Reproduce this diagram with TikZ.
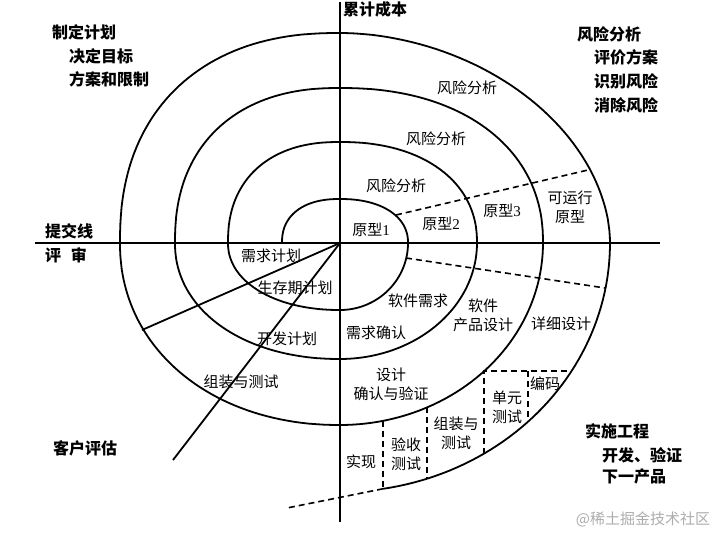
\documentclass[tikz,border=0pt]{standalone}
\usepackage{fontspec}
\setmainfont{Liberation Serif}
\newfontfamily\cjk{Noto Sans CJK SC}
\begin{document}
\begin{tikzpicture}[x=1pt,y=-1pt,
  declare function={px(\t,\s,\a,\n)=340+\s*\a*pow(abs(cos(\t))+0.00001,2/\n);
                    py(\t,\s,\b,\n)=243+\s*\b*pow(abs(sin(\t))+0.00001,2/\n);},
  spiral/.style={line width=1.8pt,line join=round,samples=50},
  axis/.style={line width=2.2pt},
  ray/.style={line width=1.8pt},
  dsh/.style={line width=1.6pt,dash pattern=on 6pt off 4pt},
  lab/.style={font=\cjk\fontsize{15}{19}\selectfont,inner sep=0pt,align=center},
  blab/.style={font=\cjk\bfseries\fontsize{16}{19}\selectfont,inner sep=0pt,anchor=west},
  wm/.style={font=\cjk\fontsize{15}{18}\selectfont,inner sep=0pt,text=black!32}]
\useasboundingbox (0,0) rectangle (715,533);
\fill[white] (0,0) rectangle (715,533);
\coordinate (O) at (340,243);
% axes
\coordinate (ax1) at (35,243); \coordinate (ax2) at (660,243);
\coordinate (ay1) at (340,2); \coordinate (ay2) at (340,522);
\draw[axis] (ax1) -- (ax2);
\draw[axis] (ay1) -- (ay2);
% spiral
\draw[spiral]
  plot[domain=0:90]  ({px(\x,-1,58,2.3)},{py(\x,-1,44,2.3)})
  -- plot[domain=90:0] ({px(\x,1,68,2.2)},{py(\x,-1,44,2.2)})
  -- plot[domain=0:90] ({px(\x,1,68,2)},{py(\x,1,67,2)})
  -- plot[domain=90:0] ({px(\x,-1,112,2.1)},{py(\x,1,67,2.1)})
  -- plot[domain=0:90] ({px(\x,-1,112,2.3)},{py(\x,-1,101,2.3)})
  -- plot[domain=90:0] ({px(\x,1,137,2.2)},{py(\x,-1,101,2.2)})
  -- plot[domain=0:90] ({px(\x,1,137,2)},{py(\x,1,116,2)})
  -- plot[domain=90:0] ({px(\x,-1,165,2.1)},{py(\x,1,116,2.1)})
  -- plot[domain=0:90] ({px(\x,-1,165,2.3)},{py(\x,-1,155,2.3)})
  -- plot[domain=90:0] ({px(\x,1,203,2.2)},{py(\x,-1,155,2.2)})
  -- plot[domain=0:90] ({px(\x,1,203,2)},{py(\x,1,182,2)})
  -- plot[domain=90:0] ({px(\x,-1,220,2.1)},{py(\x,1,182,2.1)})
  -- plot[domain=0:90] ({px(\x,-1,220,2.3)},{py(\x,-1,210,2.3)})
  -- plot[domain=90:0] ({px(\x,1,270,1.9)},{py(\x,-1,210,1.9)})
  -- plot[domain=0:80.8] ({px(\x,1,270,2)},{py(\x,1,249,2)});
\coordinate (e4) at (383,488.8);
\coordinate (e5) at (287,508);
\draw[dsh] (e4) -- (e5);
% rays
\coordinate (r1) at (142,330);
\coordinate (r2) at (173,460);
\draw[ray] (O) -- (r1);
\draw[ray] (O) -- (r2);
% dashed dividers
\coordinate (d1a) at (396,215); \coordinate (d1b) at (588,170);
\coordinate (d2a) at (406,258); \coordinate (d2b) at (605,288);
\draw[dsh] (d1a) -- (d1b);
\draw[dsh] (d2a) -- (d2b);
\coordinate (v1a) at (383,421); \coordinate (v1b) at (383,489);
\coordinate (v2a) at (427,407); \coordinate (v2b) at (427,479);
\coordinate (v3a) at (484,371); \coordinate (v3b) at (484,454);
\coordinate (h1b) at (571,371);
\coordinate (v4a) at (528,371); \coordinate (v4b) at (528,422);
\draw[dsh] (v1a) -- (v1b);
\draw[dsh] (v2a) -- (v2b);
\draw[dsh] (v3b) -- (v3a) -- (h1b);
\draw[dsh] (v4a) -- (v4b);
% corner labels
\node[blab] (t0) at (343,9) {累计成本};
\node[blab] (a1) at (52,32) {制定计划};
\node[blab] (a2) at (69,56) {决定目标};
\node[blab] (a3) at (69,79) {方案和限制};
\node[blab] (b1) at (577,34) {风险分析};
\node[blab] (b2) at (594,57) {评价方案};
\node[blab] (b3) at (594,81) {识别风险};
\node[blab] (b4) at (594,105) {消除风险};
\node[blab] (c1) at (45,231) {提交线};
\node[blab] (c2) at (45,255) {评\hspace{0.6em}审};
\node[blab] (c3) at (53,448) {客户评估};
\node[blab] (d1) at (585,431) {实施工程};
\node[blab] (d2) at (602,455) {开发、验证};
\node[blab] (d3) at (602,476) {下一产品};
% inner labels
\node[lab] (fx1) at (467,88) {风险分析};
\node[lab] (fx2) at (436,139) {风险分析};
\node[lab] (fx3) at (396,186) {风险分析};
\node[lab] (p1) at (371,230) {原型{\rmfamily 1}};
\node[lab] (p2) at (441,224) {原型{\rmfamily 2}};
\node[lab] (p3) at (502,211) {原型{\rmfamily 3}};
\node[lab] (p4) at (570,207) {可运行\\原型};
\node[lab] (xq) at (271,256) {需求计划};
\node[lab] (sc) at (295,288) {生存期计划};
\node[lab] (kf) at (287,339) {开发计划};
\node[lab] (zz) at (241,382) {组装与测试};
\node[lab] (rx) at (418,301) {软件需求};
\node[lab] (xr) at (376,333) {需求确认};
\node[lab] (cp) at (483,315) {软件\\产品设计};
\node[lab] (xx) at (561,324) {详细设计};
\node[lab] (sj) at (391,384) {设计\\确认与验证};
\node[lab] (sx) at (361,462) {实现};
\node[lab] (ys) at (406,454) {验收\\测试};
\node[lab] (zc) at (456,433) {组装与\\测试};
\node[lab] (dy) at (507,407) {单元\\测试};
\node[lab] (bm) at (545,384) {编码};
\node[wm] (w) at (643,519) {@稀土掘金技术社区};
\end{tikzpicture}
\end{document}
